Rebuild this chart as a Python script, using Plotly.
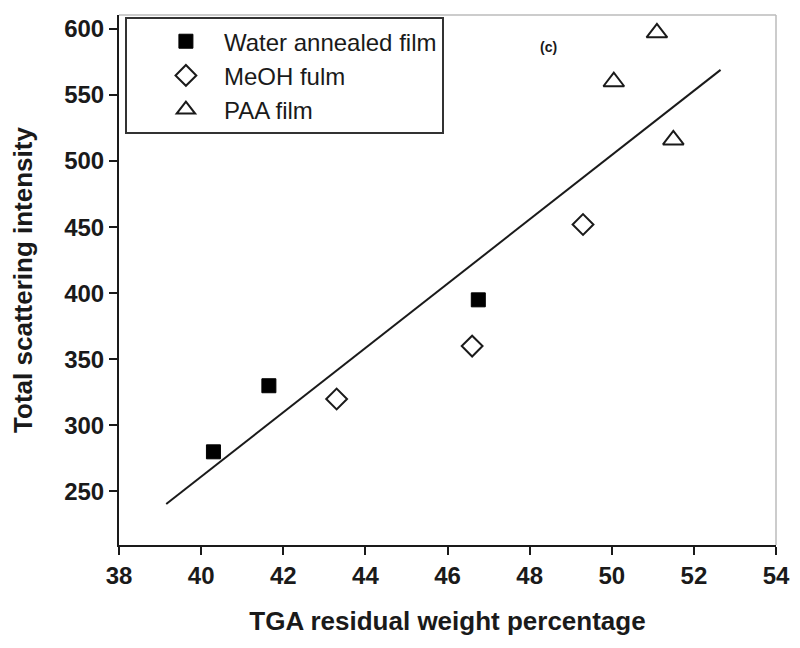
import plotly.graph_objects as go

# Data
water_x = [40.3, 41.65, 46.75]
water_y = [280, 330, 395]
meoh_x = [43.3, 46.6, 49.3]
meoh_y = [320, 360, 452]
paa_x = [51.1, 50.05, 51.5]
paa_y = [597, 560, 516]
fit_x = [39.15, 52.65]
fit_y = [240.5, 569.0]

x_ticks = [38, 40, 42, 44, 46, 48, 50, 52, 54]
y_ticks = [250, 300, 350, 400, 450, 500, 550, 600]

FONT = "Liberation Sans, Arial, sans-serif"

fig = go.Figure()
fig.add_trace(go.Scatter(x=fit_x, y=fit_y, mode="lines", showlegend=False,
                         line=dict(color="#1a1a1a", width=2)))
fig.add_trace(go.Scatter(x=water_x, y=water_y, mode="markers", name="Water annealed film",
                         marker=dict(symbol="square", size=14, color="black",
                                     line=dict(color="black", width=1))))
fig.add_trace(go.Scatter(x=meoh_x, y=meoh_y, mode="markers", name="MeOH fulm",
                         marker=dict(symbol="diamond-open", size=16, color="#1a1a1a",
                                     line=dict(color="#1a1a1a", width=2))))
fig.add_trace(go.Scatter(x=paa_x, y=paa_y, mode="markers", name="PAA film",
                         marker=dict(symbol="triangle-up-open", size=18, color="#1a1a1a",
                                     line=dict(color="#1a1a1a", width=2))))

fig.update_layout(
    width=784, height=632,
    margin=dict(l=111, r=16, t=7, b=95),
    paper_bgcolor="white", plot_bgcolor="white",
    font=dict(family=FONT, color="#1a1a1a"),
    xaxis=dict(range=[38, 54], tickvals=x_ticks, ticks="outside", ticklen=8, tickwidth=2,
               tickcolor="#1a1a1a", showline=True, linecolor="#1a1a1a", linewidth=2,
               showgrid=False, zeroline=False, automargin=False,
               tickfont=dict(family=FONT, size=24, color="#1a1a1a", weight="bold"),
               title=dict(text="<b>TGA residual weight percentage</b>", standoff=24,
                          font=dict(family=FONT, size=26, color="#1a1a1a"))),
    yaxis=dict(range=[209.5, 610.5], tickvals=y_ticks, ticks="outside", ticklen=8, tickwidth=2,
               tickcolor="#1a1a1a", showline=True, linecolor="#1a1a1a", linewidth=2,
               showgrid=False, zeroline=False, automargin=False,
               tickfont=dict(family=FONT, size=24, color="#1a1a1a", weight="bold"),
               title=dict(text="<b>Total scattering intensity</b>", standoff=30,
                          font=dict(family=FONT, size=26, color="#1a1a1a"))),
    legend=dict(x=0.009, y=0.996, xanchor="left", yanchor="top",
                bordercolor="#333333", borderwidth=2, bgcolor="white",
                font=dict(family=FONT, size=24, color="#1a1a1a"),
                indentation=21, itemwidth=66, tracegroupgap=0),
    shapes=[
        dict(type="line", xref="paper", yref="paper", x0=0, x1=1, y0=1, y1=1,
             line=dict(color="#bbbbbb", width=1.5)),
        dict(type="line", xref="paper", yref="paper", x0=1, x1=1, y0=0, y1=1,
             line=dict(color="#bbbbbb", width=1.5)),
    ],
    annotations=[
        dict(x=48.45, y=586, xref="x", yref="y", text="<b>(c)</b>", showarrow=False,
             font=dict(family=FONT, size=14, color="#1a1a1a")),
    ],
)

fig.write_html("out.html")
